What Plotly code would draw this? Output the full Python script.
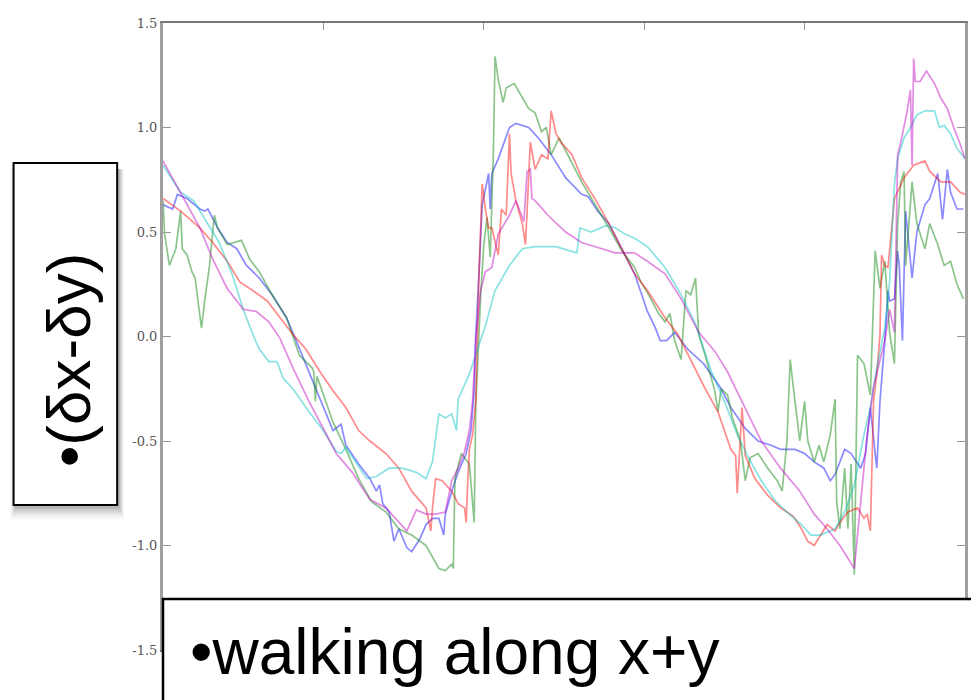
import plotly.graph_objects as go

# ---- sample index (x) and (δx-δy) readings for five walks ----
blue_x = [0, 6, 9, 15, 23, 26, 28, 34, 40, 46, 52, 60, 68, 77, 83, 89, 96, 102, 106, 111,
          114, 122, 129, 133, 135, 137, 141, 144, 147, 152, 155, 160, 164, 168, 172, 175, 176, 180, 184, 189,
          192, 194, 195, 197, 199, 203, 204, 205, 209, 216, 220, 228, 234, 242, 251, 261, 265, 271, 278, 286,
          294, 302, 307, 310, 314, 319, 327, 337, 348, 354, 363, 371, 379, 385, 394, 400, 406, 412, 416, 419,
          425, 429, 435, 438, 441, 444, 445, 447, 450, 452, 453, 456, 458, 459, 461, 463, 466, 467, 470, 475,
          478, 483, 486, 489, 491, 495, 499]
blue_y = [0.63, 0.61, 0.68, 0.66, 0.61, 0.60, 0.61, 0.52, 0.45, 0.42, 0.34, 0.28, 0.20, 0.09, -0.02, -0.13, -0.26, -0.37, -0.45, -0.42,
          -0.52, -0.61, -0.68, -0.74, -0.71, -0.80, -0.84, -0.98, -0.92, -1.01, -1.03, -0.97, -0.90, -0.87, -0.87, -0.95, -0.85, -0.74, -0.65, -0.56,
          -0.45, -0.26, 0.01, 0.30, 0.63, 0.78, 0.61, 0.78, 0.85, 1.00, 1.02, 1.00, 0.95, 0.87, 0.76, 0.68, 0.67, 0.60, 0.54, 0.42,
          0.30, 0.12, 0.04, -0.02, -0.02, 0.02, -0.06, -0.13, -0.25, -0.34, -0.44, -0.50, -0.52, -0.54, -0.54, -0.56, -0.60, -0.63, -0.69, -0.66,
          -0.54, -0.56, -0.63, -0.56, -0.34, -0.56, -0.63, -0.31, -0.02, 0.22, 0.17, 0.18, 0.41, 0.34, -0.02, 0.60, 0.34, 0.28, 0.50, 0.63,
          0.66, 0.78, 0.56, 0.80, 0.69, 0.61, 0.61]

green_x = [0, 1, 4, 8, 11, 12, 15, 18, 20, 24, 26, 29, 32, 34, 40, 49, 54, 60, 68, 77,
           85, 93, 94, 95, 96, 106, 114, 122, 130, 139, 147, 155, 164, 172, 176, 180, 181, 182, 186, 191,
           194, 195, 198, 200, 202, 204, 206, 207, 209, 212, 214, 219, 228, 232, 236, 239, 242, 247, 251, 261,
           271, 278, 286, 294, 298, 302, 309, 313, 316, 319, 323, 326, 329, 332, 334, 338, 344, 346, 348, 352,
           355, 360, 363, 366, 371, 377, 383, 386, 389, 391, 394, 397, 400, 402, 406, 409, 412, 416, 419, 420,
           422, 425, 427, 429, 431, 433, 437, 441, 444, 447, 450, 453, 456, 458, 460, 462, 463, 467, 470, 475,
           478, 483, 487, 491, 495, 499]
green_y = [0.65, 0.49, 0.34, 0.42, 0.60, 0.42, 0.39, 0.31, 0.28, 0.04, 0.17, 0.34, 0.58, 0.52, 0.44, 0.46, 0.37, 0.31, 0.20, 0.09,
           -0.09, -0.15, -0.17, -0.31, -0.19, -0.41, -0.54, -0.68, -0.79, -0.84, -0.92, -0.95, -1.00, -1.11, -1.12, -1.09, -1.11, -0.68, -0.56, -0.61,
           -0.89, -0.33, 0.19, 0.44, 0.57, 0.38, 0.89, 1.34, 1.23, 1.12, 1.19, 1.21, 1.09, 1.07, 0.98, 1.00, 0.87, 0.95, 0.89, 0.74,
           0.61, 0.52, 0.41, 0.33, 0.26, 0.21, 0.11, 0.07, 0.11, -0.02, -0.11, 0.22, 0.20, 0.28, 0.01, -0.09, -0.26, -0.36, -0.25, -0.28,
           -0.39, -0.50, -0.69, -0.58, -0.56, -0.63, -0.69, -0.74, -0.50, -0.11, -0.31, -0.50, -0.31, -0.50, -0.60, -0.52, -0.60, -0.47, -0.30, -0.79,
           -0.92, -0.63, -0.92, -0.61, -1.14, -0.09, -0.13, -0.28, 0.41, 0.23, 0.36, 0.02, -0.13, 0.54, 0.74, 0.79, 0.34, 0.74, 0.54, 0.42,
           0.54, 0.44, 0.34, 0.36, 0.25, 0.18]

red_x = [0, 11, 23, 31, 40, 48, 56, 65, 73, 81, 89, 98, 106, 114, 122, 129, 139, 147, 155, 164,
         167, 168, 170, 174, 180, 183, 184, 188, 189, 190, 191, 193, 195, 196, 197, 199, 201, 203, 205, 209,
         211, 214, 216, 217, 220, 224, 226, 229, 232, 236, 240, 242, 245, 248, 255, 261, 270, 278, 286, 294,
         302, 313, 321, 329, 338, 346, 354, 357, 358, 361, 363, 369, 377, 385, 393, 398, 402, 406, 410, 414,
         419, 422, 427, 433, 437, 439, 441, 443, 445, 447, 448, 450, 452, 456, 462, 468, 475, 478, 485, 491,
         497, 500]
red_y = [0.66, 0.60, 0.52, 0.45, 0.36, 0.26, 0.22, 0.17, 0.09, 0.01, -0.06, -0.17, -0.26, -0.34, -0.45, -0.50, -0.56, -0.63, -0.74, -0.82,
         -0.93, -0.82, -0.68, -0.69, -0.74, -0.78, -0.80, -0.82, -0.89, -0.69, -0.54, -0.47, -0.31, 0.01, 0.30, 0.73, 0.61, 0.52, 0.52, 0.39,
         0.61, 0.58, 0.97, 0.78, 0.65, 0.54, 0.44, 0.93, 0.80, 0.87, 0.85, 1.08, 0.97, 0.93, 0.87, 0.76, 0.65, 0.54, 0.42, 0.30,
         0.22, 0.09, 0.01, -0.11, -0.25, -0.36, -0.54, -0.57, -0.75, -0.34, -0.57, -0.68, -0.76, -0.82, -0.86, -0.92, -0.98, -1.00, -0.95, -0.90,
         -0.93, -0.89, -0.84, -0.82, -0.87, -0.85, -0.93, -0.31, -0.18, 0.01, 0.39, 0.34, 0.33, 0.66, 0.76, 0.82, 0.84, 0.79, 0.74, 0.74,
         0.69, 0.68]

cyan_x = [0, 11, 19, 27, 35, 43, 50, 56, 60, 66, 71, 75, 81, 91, 99, 108, 111, 114, 120, 127,
          133, 141, 149, 158, 164, 168, 172, 176, 180, 183, 184, 191, 197, 201, 207, 216, 224, 232, 245, 253,
          258, 260, 267, 276, 282, 288, 294, 302, 313, 323, 332, 335, 342, 350, 358, 365, 373, 381, 389, 398,
          404, 410, 419, 425, 431, 437, 441, 445, 450, 453, 456, 458, 462, 466, 470, 475, 481, 484, 487, 491,
          495, 500]
cyan_y = [0.82, 0.69, 0.65, 0.55, 0.45, 0.30, 0.13, 0.01, -0.06, -0.12, -0.12, -0.20, -0.25, -0.36, -0.44, -0.55, -0.56, -0.53, -0.60, -0.68,
          -0.67, -0.63, -0.63, -0.65, -0.68, -0.60, -0.37, -0.39, -0.37, -0.45, -0.30, -0.18, -0.04, 0.05, 0.22, 0.34, 0.42, 0.43, 0.43, 0.41,
          0.40, 0.52, 0.50, 0.53, 0.52, 0.49, 0.47, 0.43, 0.33, 0.20, 0.06, -0.01, -0.17, -0.31, -0.47, -0.58, -0.69, -0.78, -0.84, -0.90,
          -0.95, -0.95, -0.92, -0.84, -0.71, -0.47, -0.34, -0.15, 0.04, 0.26, 0.73, 0.85, 0.95, 1.00, 1.06, 1.08, 1.08, 1.00, 1.01, 0.97,
          0.90, 0.85]

magenta_x = [0, 11, 23, 31, 40, 50, 58, 66, 73, 81, 91, 102, 108, 118, 129, 139, 152, 158, 164, 170,
             176, 180, 184, 188, 191, 193, 195, 198, 201, 205, 207, 209, 216, 220, 225, 227, 229, 230, 232, 240,
             251, 261, 265, 282, 294, 302, 313, 323, 334, 344, 352, 363, 373, 385, 397, 406, 414, 422, 431, 435,
             439, 443, 450, 453, 456, 458, 460, 464, 466, 467, 468, 469, 472, 476, 481, 485, 489, 493, 497, 500]
magenta_y = [0.84, 0.69, 0.52, 0.37, 0.23, 0.13, 0.12, 0.07, -0.01, -0.15, -0.31, -0.47, -0.56, -0.65, -0.78, -0.82, -0.93, -0.83, -0.85, -0.85,
             -0.84, -0.69, -0.63, -0.55, -0.45, -0.31, -0.02, 0.22, 0.31, 0.33, 0.41, 0.49, 0.58, 0.65, 0.55, 0.79, 0.80, 0.66, 0.65, 0.58,
             0.50, 0.45, 0.44, 0.40, 0.40, 0.36, 0.30, 0.18, 0.02, -0.07, -0.17, -0.34, -0.50, -0.63, -0.74, -0.85, -0.92, -1.00, -1.11, -0.79,
             -0.47, -0.24, -0.02, 0.13, 0.02, 0.87, 0.93, 1.08, 1.18, 0.82, 1.33, 1.22, 1.22, 1.27, 1.21, 1.14, 1.09, 1.00, 0.92, 0.85]

y_ticks = [-1.5, -1.0, -0.5, 0.0, 0.5, 1.0, 1.5]
y_tick_text = ["-1.5", "-1.0", "-0.5", "0.0", "0.5", "1.0", "1.5"]
x_ticks = [100, 200, 300, 400]

series = [
    (blue_x, blue_y, "rgb(0,0,255)"),
    (green_x, green_y, "rgb(0,128,0)"),
    (red_x, red_y, "rgb(255,0,0)"),
    (cyan_x, cyan_y, "rgb(0,191,191)"),
    (magenta_x, magenta_y, "rgb(191,0,191)"),
]

fig = go.Figure()
for xs, ys, col in series:
    fig.add_trace(go.Scatter(x=xs, y=ys, mode="lines",
                             line=dict(color=col, width=1.7),
                             opacity=0.45, showlegend=False, hoverinfo="skip"))

W, H = 971, 700
L, R, T, B = 163, 3, 23, 50
PW, PH = W - L - R, H - T - B


def px(x):
    return (x - L) / PW


def py(y):
    return (H - B - y) / PH


shapes = []
# soft drop shadow under the axis-label card
for k, op in enumerate([0.10, 0.08, 0.06, 0.04, 0.03]):
    shapes.append(dict(type="rect", xref="paper", yref="paper", layer="above",
                       x0=px(13 + 1 - k), x1=px(117 + 3 + k),
                       y0=py(505 + 4 + k * 2.5), y1=py(163 + 6),
                       line=dict(width=0), fillcolor=f"rgba(0,0,0,{op})"))
# axis-label card
shapes.append(dict(type="rect", xref="paper", yref="paper", layer="above",
                   x0=px(13), x1=px(117), y0=py(505), y1=py(163),
                   line=dict(color="black", width=2), fillcolor="white"))
# caption card along the bottom
shapes.append(dict(type="rect", xref="paper", yref="paper", layer="above",
                   x0=px(163), x1=px(980), y0=py(710), y1=py(599),
                   line=dict(color="black", width=2.5), fillcolor="white"))

annotations = [
    dict(text="•(δx-δy)", xref="paper", yref="paper", x=px(68), y=py(360),
         xanchor="center", yanchor="middle", textangle=-90, showarrow=False,
         font=dict(family="Liberation Sans, Arial, sans-serif", size=62, color="black")),
    dict(text="•walking along x+y", xref="paper", yref="paper", x=px(188), y=py(652),
         xanchor="left", yanchor="middle", showarrow=False,
         font=dict(family="Liberation Sans, Arial, sans-serif", size=64, color="black")),
]

fig.update_layout(
    width=W, height=H,
    margin=dict(l=L, r=R, t=T, b=B, pad=0),
    paper_bgcolor="white", plot_bgcolor="white",
    shapes=shapes, annotations=annotations,
    xaxis=dict(range=[0, 500], side="top", showgrid=False, zeroline=False,
               showline=True, linecolor="#777777", linewidth=2, mirror="ticks",
               ticks="inside", ticklen=7, tickwidth=1, tickcolor="#999999",
               tickvals=x_ticks, showticklabels=False),
    yaxis=dict(range=[-1.5, 1.5], showgrid=False, zeroline=False,
               showline=True, linecolor="#a0a0a0", linewidth=3, mirror="ticks",
               ticks="inside", ticklen=8, tickwidth=1, tickcolor="#999999",
               tickvals=y_ticks, ticktext=y_tick_text,
               tickfont=dict(family="DejaVu Serif, serif", size=13, color="#555555")),
)

fig.write_html("out.html")
